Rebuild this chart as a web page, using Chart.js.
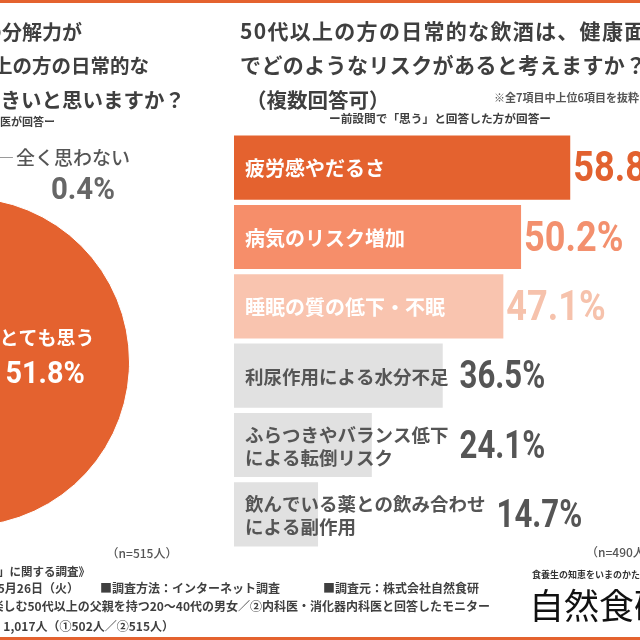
<!DOCTYPE html>
<html lang="ja">
<head>
<meta charset="utf-8">
<title>50代以上の方の日常的な飲酒と健康リスク</title>
<script src="https://cdn.jsdelivr.net/npm/chart.js@4.4.1/dist/chart.umd.min.js"></script>
<style>
    html, body { margin: 0; padding: 0; background: #fff; }
    .page { position: relative; width: 640px; height: 640px; overflow: hidden; background: #fff; }
    #pieWrap { position: absolute; left: -215px; top: 0; width: 450px; height: 580px; z-index: 1; }
    #barWrap { position: absolute; left: 0; top: 0; width: 640px; height: 640px; z-index: 2; }
</style>
</head>
<body>
<div class="page">
    <div id="pieWrap"><canvas id="pieChart"></canvas></div>
    <div id="barWrap"><canvas id="riskChart"></canvas></div>
</div>
<script>
// ==================== DATA ====================

// Q1: 分解力が落ちた50代以上の飲酒の影響 (n=515)
const pieLabels = ['とても思う', 'まあ思う', 'あまり思わない', '全く思わない'];
const pieValues = [51.8, 40.2, 7.6, 0.4];

// Q2: 健康面のリスク (複数回答可, n=490)
const riskLabels = [
    ['疲労感やだるさ'],
    ['病気のリスク増加'],
    ['睡眠の質の低下・不眠'],
    ['利尿作用による水分不足'],
    ['ふらつきやバランス低下', 'による転倒リスク'],
    ['飲んでいる薬との飲み合わせ', 'による副作用']
];
const riskValues = [58.8, 50.2, 47.1, 36.5, 24.1, 14.7];
const riskAxisMax = 71;

// ==================== STYLE ====================

const JP = '"Noto Sans CJK JP", "Noto Sans", sans-serif';
const NUM = 'Roboto, "Liberation Sans", sans-serif';
const ORANGE = '#E4622F';
const TEXT = '#3f3f3f';

const pieColors = [ORANGE, '#F39A78', '#F9CDBB', '#BDBDBD'];
const barColors = [ORANGE, '#F68E6A', '#F9C4AF', '#E1E1E1', '#E1E1E1', '#E1E1E1'];
const valueColors = ['#E2612F', '#F3906E', '#F6C2AC', '#555555', '#555555', '#555555'];

// draw one line of text
function drawText(ctx, text, x, y, font, color, align, spacing) {
    ctx.save();
    ctx.font = font;
    ctx.fillStyle = color;
    ctx.textAlign = align || 'left';
    ctx.textBaseline = 'middle';
    ctx.letterSpacing = (spacing || 0) + 'px';
    ctx.fillText(text, x, y);
    ctx.restore();
}

// condensed looking big numbers
function drawNumber(ctx, text, x, y, size, color, align, sx) {
    ctx.save();
    ctx.font = 'bold ' + size + 'px ' + NUM;
    ctx.fillStyle = color;
    ctx.textBaseline = 'middle';
    ctx.textAlign = align || 'left';
    ctx.translate(x, y);
    ctx.scale(sx, 1);
    ctx.fillText(text, 0, 0);
    ctx.restore();
}

// ==================== PIE (left, mostly cropped) ====================

const pieLabelPlugin = {
    id: 'pieLabels',
    afterDatasetsDraw(chart) {
        const ctx = chart.ctx;
        const arcs = chart.getDatasetMeta(0).data;

        // biggest slice, label inside
        const p = arcs[0].tooltipPosition();
        drawText(ctx, pieLabels[0], p.x, p.y - 29, 'bold 19px ' + JP, '#fff', 'center');
        drawNumber(ctx, pieValues[0].toFixed(1) + '%', p.x - 2, p.y + 8, 32, '#fff', 'center', 0.9);

        // tiny slice, leader line + label outside
        const small = arcs[3].getProps(['x', 'y', 'startAngle', 'endAngle', 'outerRadius'], true);
        const mid = (small.startAngle + small.endAngle) / 2;
        const ox = small.x + Math.cos(mid) * small.outerRadius;
        const oy = small.y + Math.sin(mid) * small.outerRadius;
        const elbowY = small.y - small.outerRadius - 40;
        ctx.save();
        ctx.strokeStyle = '#9a9a9a';
        ctx.lineWidth = 1;
        ctx.beginPath();
        ctx.moveTo(ox, oy);
        ctx.lineTo(ox, elbowY);
        ctx.lineTo(ox + 50, elbowY);
        ctx.stroke();
        ctx.restore();
        drawText(ctx, pieLabels[3], ox + 53, elbowY, '500 19px ' + JP, '#555', 'left');
        drawNumber(ctx, pieValues[3].toFixed(1) + '%', ox + 120, elbowY + 33, 32, '#666', 'center', 0.92);
    }
};

new Chart(document.getElementById('pieChart'), {
    type: 'pie',
    data: {
        labels: pieLabels,
        datasets: [{
            data: pieValues,
            backgroundColor: pieColors,
            borderColor: '#fff',
            borderWidth: 1
        }]
    },
    options: {
        responsive: true,
        maintainAspectRatio: false,
        animation: false,
        layout: { padding: { left: 15, right: 105, top: 197, bottom: 53 } },
        plugins: {
            legend: { display: false },
            tooltip: { enabled: false }
        }
    },
    plugins: [pieLabelPlugin]
});

// ==================== BARS (right) + page texts ====================

const pageTextPlugin = {
    id: 'pageTexts',
    afterDraw(chart) {
        const ctx = chart.ctx;

        // orange bands
        ctx.save();
        ctx.fillStyle = ORANGE;
        ctx.fillRect(0, 0, 640, 3);
        ctx.fillRect(0, 637, 640, 3);
        ctx.restore();

        // left title (cut by the page edge)
        drawText(ctx, 'アルコールの分解力が', 82, 32, 'bold 20px ' + JP, TEXT, 'right');
        drawText(ctx, '落ちた50代以上の方の日常的な', 149, 66, 'bold 19.5px ' + JP, TEXT, 'right');
        drawText(ctx, '飲酒の影響は大きいと思いますか？', 185, 100, 'bold 20.5px ' + JP, TEXT, 'right');
        drawText(ctx, 'ー内科医・消化器内科医が回答ー', 55, 122, 'bold 11px ' + JP, TEXT, 'right');

        // right title
        drawText(ctx, '50代以上の方の日常的な飲酒は、健康面', 240, 31, 'bold 21px ' + JP, TEXT, 'left', 1.3);
        drawText(ctx, 'でどのようなリスクがあると考えますか？', 240, 65, 'bold 21px ' + JP, TEXT, 'left', 0.4);
        drawText(ctx, '（複数回答可）', 246, 100, 'bold 20.5px ' + JP, TEXT, 'left');
        drawText(ctx, '※全7項目中上位6項目を抜粋', 494, 98, 'bold 11px ' + JP, '#555', 'left');
        drawText(ctx, 'ー前設問で「思う」と回答した方が回答ー', 440, 119, 'bold 11.7px ' + JP, TEXT, 'center');

        // sample sizes
        drawText(ctx, '（n=515人）', 142, 553, '500 12px ' + JP, '#555', 'center');
        drawText(ctx, '（n=490人）', 586, 552, '500 12px ' + JP, '#555', 'left');

        // survey outline
        const f = 'bold 12px ' + JP;
        drawText(ctx, '《「50代以上の方の飲酒」に関する調査》', 90, 572, 'bold 11.5px ' + JP, TEXT, 'right');
        drawText(ctx, '■調査期間：2020年5月25日（月）～5月26日（火）', 79, 588, f, TEXT, 'right');
        drawText(ctx, '■調査方法：インターネット調査', 100, 588, f, TEXT, 'left');
        drawText(ctx, '■調査元：株式会社自然食研', 323, 588, f, TEXT, 'left');
        drawText(ctx, '■調査対象：①お酒を楽しむ50代以上の父親を持つ20～40代の男女／②内科医・消化器内科医と回答したモニター', 490, 606, f, TEXT, 'right');
        drawText(ctx, '■調査人数：1,017人（①502人／②515人）', 174, 626, f, TEXT, 'right');

        // logo
        drawText(ctx, '食養生の知恵をいまのかたちに', 532, 575, 'bold 9px ' + JP, '#333', 'left');
        drawText(ctx, '自然食研', 529, 606, '35px ' + JP, '#111', 'left');
    },
    afterDatasetsDraw(chart) {
        const ctx = chart.ctx;
        const meta = chart.getDatasetMeta(0);

        meta.data.forEach((bar, i) => {
            const b = bar.getProps(['x', 'y', 'base'], true);
            const lines = riskLabels[i];
            const strong = i < 3;
            const font = strong ? 'bold 20px ' + JP : 'bold 18.5px ' + JP;
            const color = strong ? '#fff' : '#555';
            const lh = 23;
            const x = b.base + 11;
            const y0 = b.y - (lines.length - 1) * lh / 2 + 1;

            ctx.save();
            ctx.font = font;
            let maxW = 0;
            lines.forEach(l => { maxW = Math.max(maxW, ctx.measureText(l).width); });
            ctx.restore();

            lines.forEach((l, k) => drawText(ctx, l, x, y0 + k * lh, font, color, 'left'));

            const vx = strong ? b.x + 3 : x + maxW + 11;
            const size = strong ? 42 : 38;
            const sx = strong ? 0.86 : 0.82;
            drawNumber(ctx, riskValues[i].toFixed(1) + '%', vx, b.y + 3, size, valueColors[i], 'left', sx);
        });
    }
};

new Chart(document.getElementById('riskChart'), {
    type: 'bar',
    data: {
        labels: riskLabels,
        datasets: [{
            data: riskValues,
            backgroundColor: barColors,
            borderWidth: 0,
            categoryPercentage: 1,
            barPercentage: 0.925
        }]
    },
    options: {
        indexAxis: 'y',
        responsive: true,
        maintainAspectRatio: false,
        animation: false,
        layout: { padding: { left: 234, right: 0, top: 133, bottom: 91 } },
        scales: {
            x: { display: false, min: 0, max: riskAxisMax },
            y: { display: false }
        },
        plugins: {
            legend: { display: false },
            tooltip: { enabled: false }
        }
    },
    plugins: [pageTextPlugin]
});
</script>
</body>
</html>
